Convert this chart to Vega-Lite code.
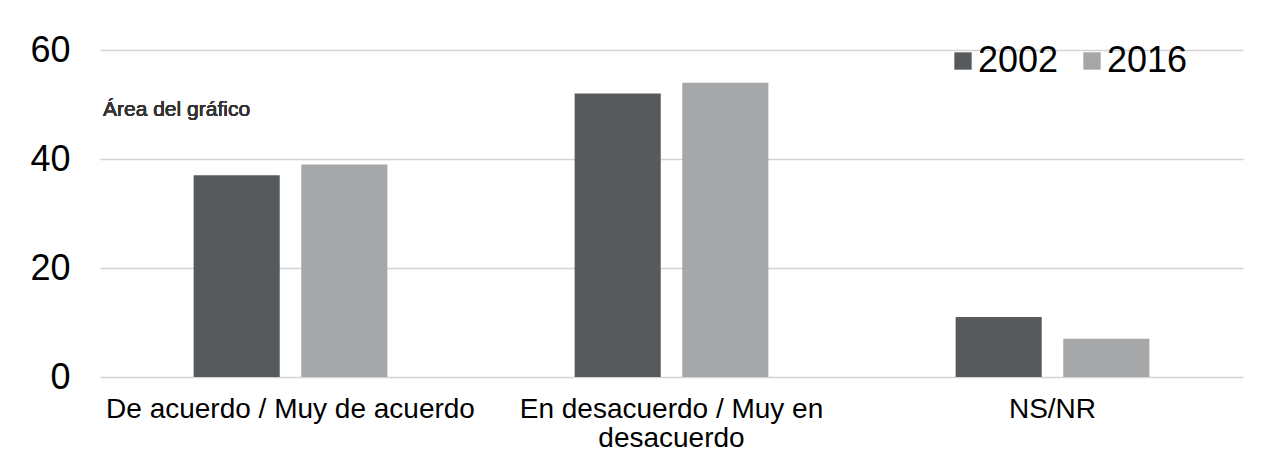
{
  "$schema": "https://vega.github.io/schema/vega-lite/v6.json",
  "autosize": {"type": "none"},
  "padding": {"left": 100, "top": 50, "right": 25, "bottom": 81},
  "width": 1143,
  "height": 327,
  "background": "white",
  "config": {
    "font": "Liberation Sans",
    "view": {"stroke": null}
  },
  "data": {
    "values": [
      {"categoria": "De acuerdo / Muy de acuerdo", "anio": "2002", "valor": 37},
      {"categoria": "De acuerdo / Muy de acuerdo", "anio": "2016", "valor": 39},
      {"categoria": "En desacuerdo / Muy en desacuerdo", "anio": "2002", "valor": 52},
      {"categoria": "En desacuerdo / Muy en desacuerdo", "anio": "2016", "valor": 54},
      {"categoria": "NS/NR", "anio": "2002", "valor": 11},
      {"categoria": "NS/NR", "anio": "2016", "valor": 7}
    ]
  },
  "encoding": {
    "x": {
      "field": "categoria",
      "type": "nominal",
      "sort": null,
      "scale": {"paddingInner": 0, "paddingOuter": 0},
      "axis": {
        "title": null,
        "domain": false,
        "ticks": false,
        "labelAngle": 0,
        "labelFontSize": 28,
        "labelColor": "#000000",
        "labelPadding": 18,
        "labelLimit": 0,
        "labelLineHeight": 29,
        "labelExpr": "datum.label == 'En desacuerdo / Muy en desacuerdo' ? ['En desacuerdo / Muy en', 'desacuerdo'] : datum.label"
      }
    },
    "y": {
      "field": "valor",
      "type": "quantitative",
      "scale": {"domain": [0, 60], "nice": false},
      "axis": {
        "title": null,
        "values": [0, 20, 40, 60],
        "domain": false,
        "ticks": false,
        "labelFontSize": 36,
        "labelColor": "#000000",
        "labelPadding": 30,
        "gridColor": "#d4d4d4",
        "gridWidth": 1.5
      }
    }
  },
  "layer": [
    {
      "mark": {"type": "bar"},
      "encoding": {
        "xOffset": {
          "field": "anio",
          "type": "nominal",
          "scale": {"paddingInner": 0.2, "paddingOuter": 0.87}
        },
        "color": {
          "field": "anio",
          "type": "nominal",
          "scale": {"domain": ["2002", "2016"], "range": ["#565a5c", "#a5a7a8"]},
          "legend": {
            "title": null,
            "orient": "none",
            "direction": "horizontal",
            "legendX": 845,
            "legendY": -7,
            "padding": 0,
            "symbolType": "square",
            "symbolSize": 300,
            "symbolStrokeWidth": 0,
            "symbolOpacity": 1,
            "labelFontSize": 36,
            "labelColor": "#000000",
            "labelOffset": -3,
            "columnPadding": 15
          }
        }
      }
    },
    {
      "mark": {"type": "text", "align": "left", "baseline": "middle", "fontSize": 21, "fontWeight": "normal", "color": "#333333", "dx": 3},
      "encoding": {
        "x": {"datum": "De acuerdo / Muy de acuerdo", "bandPosition": 0},
        "y": {"datum": 49},
        "text": {"value": "Área del gráfico"}
      }
    }
  ]
}
